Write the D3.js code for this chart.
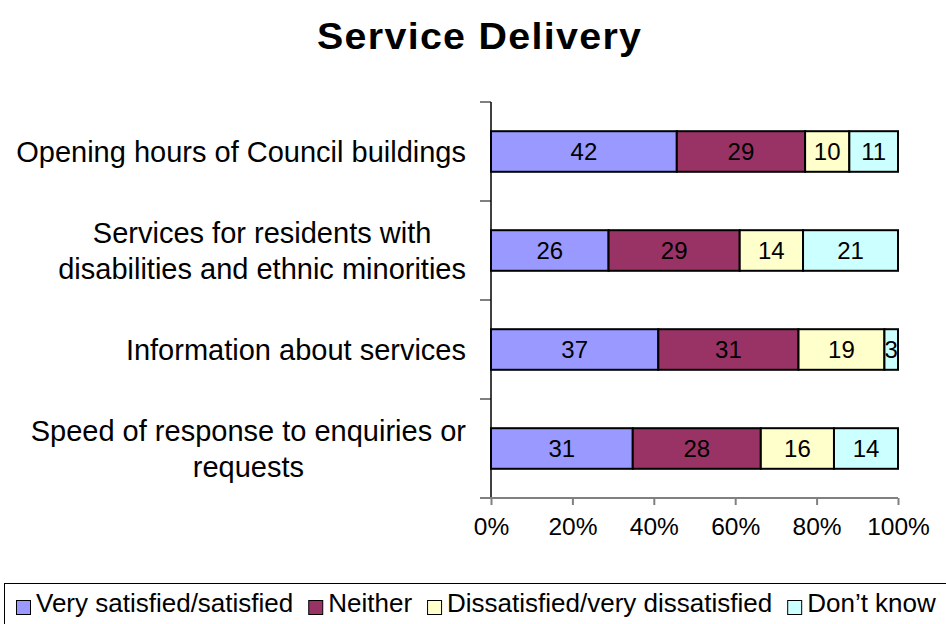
<!DOCTYPE html>
<html>
<head>
<meta charset="utf-8">
<script src="https://cdn.jsdelivr.net/npm/d3@7"></script>
<style>
  html, body { margin: 0; padding: 0; background: #fff; }
  svg { display: block; font-family: "Liberation Sans", Arial, sans-serif; }
</style>
</head>
<body>
<svg id="chart" width="946" height="624"></svg>
<script>
// Survey categories (top to bottom) with label lines
const categories = [
  "Opening hours of Council buildings",
  "Services for residents with disabilities and ethnic minorities",
  "Information about services",
  "Speed of response to enquiries or requests"
];
const categoryLines = [
  ["Opening hours of Council buildings"],
  ["Services for residents with", "disabilities and ethnic minorities"],
  ["Information about services"],
  ["Speed of response to enquiries or", "requests"]
];

const seriesNames = ["Very satisfied/satisfied", "Neither", "Dissatisfied/very dissatisfied", "Don\u2019t know"];
const seriesColors = ["#9999FF", "#993366", "#FFFFCC", "#CCFFFF"];

// Response values per series, in category order
const verySatisfied = [42, 26, 37, 31];
const neither       = [29, 29, 31, 28];
const dissatisfied  = [10, 14, 19, 16];
const dontKnow      = [11, 21, 3, 14];

const xTickValues = [0, 0.2, 0.4, 0.6, 0.8, 1.0];

const svg = d3.select("#chart");

const seriesValues = [verySatisfied, neither, dissatisfied, dontKnow];
const rows = categories.map((c, i) => {
  const r = { category: c };
  seriesNames.forEach((s, j) => { r[s] = seriesValues[j][i]; });
  return r;
});

const stacked = d3.stack()
  .keys(seriesNames)
  .offset(d3.stackOffsetExpand)(rows);

const x = d3.scaleLinear().domain([0, 1]).range([491, 898]);
const y = d3.scaleBand().domain(categories).range([102, 498])
  .paddingInner(0.59).paddingOuter(0.295);

// Title (wide bold lettering)
const titleW = 324, titleScale = 1.05, titleX = 479;
svg.append("text")
  .attr("transform", `translate(${titleX},49) scale(${titleScale},1)`)
  .attr("x", -titleW / titleScale / 2).attr("y", 0)
  .attr("textLength", titleW / titleScale)
  .attr("lengthAdjust", "spacing")
  .attr("font-size", 37.5).attr("font-weight", "bold")
  .text("Service Delivery");

// Bars
const layers = svg.append("g").selectAll("g")
  .data(stacked).join("g")
  .attr("fill", (d, i) => seriesColors[i]);

layers.selectAll("rect")
  .data(d => d.map(p => Object.assign(p, { key: d.key })))
  .join("rect")
  .attr("x", d => x(d[0]))
  .attr("y", d => y(d.data.category))
  .attr("width", d => x(d[1]) - x(d[0]))
  .attr("height", y.bandwidth())
  .attr("stroke", "#000")
  .attr("stroke-width", 2);

// Value labels
layers.selectAll("text")
  .data(d => d)
  .join("text")
  .attr("x", d => (x(d[0]) + x(d[1])) / 2)
  .attr("y", d => y(d.data.category) + y.bandwidth() / 2)
  .attr("dy", "0.36em")
  .attr("text-anchor", "middle")
  .attr("font-size", 24)
  .attr("fill", "#000")
  .text(d => d.data[d.key]);

// Vertical category axis: line plus boundary ticks
const step = y.step();
const boundaries = categories.map(c => y(c) - step * y.paddingInner() / 2)
  .concat([y(categories[categories.length - 1]) + y.bandwidth() + step * y.paddingInner() / 2]);
const yAxis = svg.append("g");
yAxis.selectAll("line.tick").data(boundaries).join("line")
  .attr("class", "tick")
  .attr("x1", 480).attr("x2", 491)
  .attr("y1", d => d).attr("y2", d => d)
  .attr("stroke", "#808080").attr("stroke-width", 2);
yAxis.append("line")
  .attr("x1", 491).attr("x2", 491)
  .attr("y1", boundaries[0]).attr("y2", boundaries[boundaries.length - 1])
  .attr("stroke", "#000").attr("stroke-width", 1.5);

// Category labels, centred as a block whose right edge sits left of the axis
const labelRight = 466;
const lineH = 36;
categories.forEach((c, i) => {
  const lines = categoryLines[i];
  const g = svg.append("g");
  const cy = y(c) + y.bandwidth() / 2;
  const texts = lines.map((ln, k) => g.append("text")
    .attr("font-size", 29)
    .attr("y", cy + (k - (lines.length - 1) / 2) * lineH)
    .attr("dy", "0.36em")
    .text(ln));
  const widths = texts.map(t => t.node().getComputedTextLength());
  const maxW = d3.max(widths);
  const centre = labelRight - maxW / 2;
  texts.forEach(t => t.attr("x", centre).attr("text-anchor", "middle"));
});

// Horizontal percentage axis
const xAxis = svg.append("g").attr("transform", `translate(0,${boundaries[boundaries.length - 1]})`)
  .call(d3.axisBottom(x).tickValues(xTickValues).tickFormat(d3.format(".0%")).tickSize(7).tickPadding(13));
xAxis.select(".domain").attr("stroke", "#808080").attr("stroke-width", 2).attr("d", `M480,0H898`);
xAxis.selectAll(".tick line").attr("stroke", "#808080").attr("stroke-width", 2);
xAxis.selectAll(".tick text").attr("font-size", 24.5).attr("fill", "#000")
  .attr("font-family", "'Liberation Sans', Arial, sans-serif");

// Legend
const legend = svg.append("g");
legend.append("rect")
  .attr("x", 4.5).attr("y", 583.5).attr("width", 960).attr("height", 50)
  .attr("fill", "#fff").attr("stroke", "#000").attr("stroke-width", 1);
let lx = 16;
seriesNames.forEach((name, i) => {
  legend.append("rect")
    .attr("x", lx + 0.5).attr("y", 600.5).attr("width", 14).attr("height", 14)
    .attr("fill", seriesColors[i]).attr("stroke", "#000").attr("stroke-width", 1);
  const t = legend.append("text")
    .attr("x", lx + 20).attr("y", 612)
    .attr("font-size", 26)
    .text(name);
  lx += 20 + t.node().getComputedTextLength() + 15;
});
</script>
</body>
</html>
